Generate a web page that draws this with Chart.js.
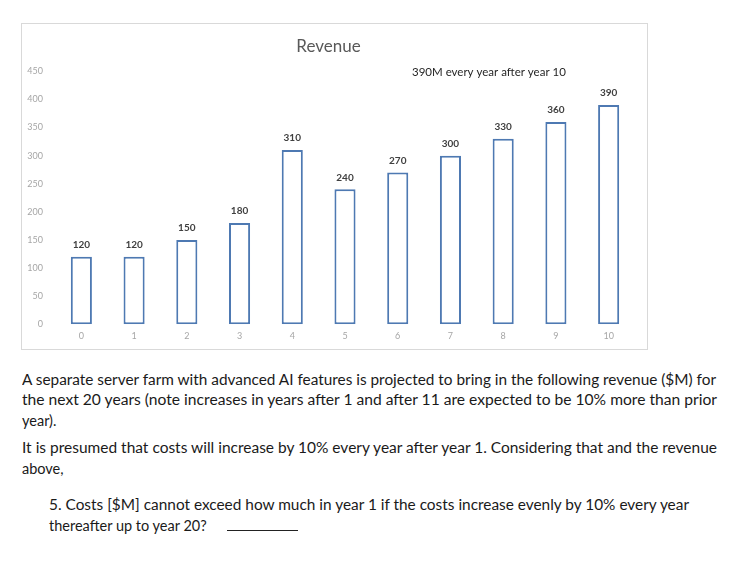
<!DOCTYPE html>
<html>
<head>
<meta charset="utf-8">
<script src="https://cdn.jsdelivr.net/npm/chart.js@4.4.0/dist/chart.umd.min.js"></script>
<style>
  body{margin:0;background:#fff;width:747px;height:562px;position:relative;overflow:hidden;font-family:Lato,"Open Sans",sans-serif;}
  #frame{position:absolute;left:21px;top:23px;width:627px;height:327px;border:1px solid #d9d9d9;box-sizing:border-box;}
  #mychart{position:absolute;left:0;top:0;}
  .ln{position:absolute;white-space:nowrap;font-size:14.5px;color:#1a1a1a;transform-origin:0 50%;line-height:18px;}
  .blank{display:inline-block;width:71px;border-bottom:1px solid #222;height:12px;margin-left:17px;}
</style>
</head>
<body>
<div id="frame"><canvas id="mychart" width="627" height="327"></canvas></div>

<div class="ln" style="left:22px;top:371px" data-w="694">A separate server farm with advanced AI features is projected to bring in the following revenue ($M) for</div>
<div class="ln" style="left:22px;top:391px" data-w="695">the next 20 years (note increases in years after 1 and after 11 are expected to be 10% more than prior</div>
<div class="ln" style="left:22px;top:412px">year).</div>
<div class="ln" style="left:22px;top:439px" data-w="695">It is presumed that costs will increase by 10% every year after year 1. Considering that and the revenue</div>
<div class="ln" style="left:22px;top:460px">above,</div>
<div class="ln" style="left:49px;top:496px" data-w="640">5. Costs [$M] cannot exceed how much in year 1 if the costs increase evenly by 10% every year</div>
<div class="ln" style="left:49px;top:517px">thereafter up to year 20? <span class="blank"></span></div>

<script>
const years=['0','1','2','3','4','5','6','7','8','9','10'];
const revenue=[120,120,150,180,310,240,270,300,330,360,390];
const yTicks=[0,50,100,150,200,250,300,350,400,450];
const note='390M every year after year 10';

// squeeze the paragraph lines to the reference widths
document.querySelectorAll('.ln[data-w]').forEach(el=>{
  let w=el.getBoundingClientRect().width;
  el.style.transform='scaleX('+(el.dataset.w/w)+')';
});

const barLabels={
  id:'barLabels',
  afterDatasetsDraw(chart){
    const ctx=chart.ctx;
    const meta=chart.getDatasetMeta(0);
    ctx.save();
    ctx.font='bold 10px Lato, sans-serif';
    ctx.fillStyle='#404040';
    ctx.textAlign='center';
    ctx.textBaseline='middle';
    meta.data.forEach((bar,i)=>{
      ctx.fillText(revenue[i],bar.x,bar.y-12);
    });
    // note over the late years
    const x=chart.scales.x.getPixelForValue(7.73);
    const y=chart.scales.y.getPixelForValue(450);
    ctx.font='11.5px Lato, sans-serif';
    ctx.fillStyle='#262626';
    ctx.fillText(note,x,y+1);
    ctx.restore();
  }
};

let canvas=document.getElementById('mychart');
new Chart(canvas,{
  type:'bar',
  data:{
    labels:years,
    datasets:[{
      data:revenue,
      backgroundColor:'#ffffff',
      borderColor:'#4e79b2',
      borderWidth:2,
      borderSkipped:false,
      categoryPercentage:1,
      barPercentage:0.4
    }]
  },
  options:{
    responsive:false,
    animation:false,
    layout:{padding:{left:0,right:14,top:0,bottom:4}},
    plugins:{
      legend:{display:false},
      tooltip:{enabled:false},
      title:{
        display:true,
        text:'Revenue',
        color:'#595959',
        font:{size:17,family:'Lato, sans-serif',weight:'normal'},
        padding:{top:12,bottom:15}
      }
    },
    scales:{
      x:{
        grid:{display:false,drawTicks:false},
        border:{display:false},
        ticks:{color:'#a6a6a6',font:{size:9,family:'Lato, sans-serif'},padding:6}
      },
      y:{
        min:0,max:450,
        grid:{display:false,drawTicks:false},
        border:{display:false},
        afterFit(scale){scale.width=33;},
        afterBuildTicks(scale){scale.ticks=yTicks.map(v=>({value:v}));},
        ticks:{color:'#a6a6a6',font:{size:9,family:'Lato, sans-serif'},padding:12}
      }
    }
  },
  plugins:[barLabels]
});
</script>
</body>
</html>
